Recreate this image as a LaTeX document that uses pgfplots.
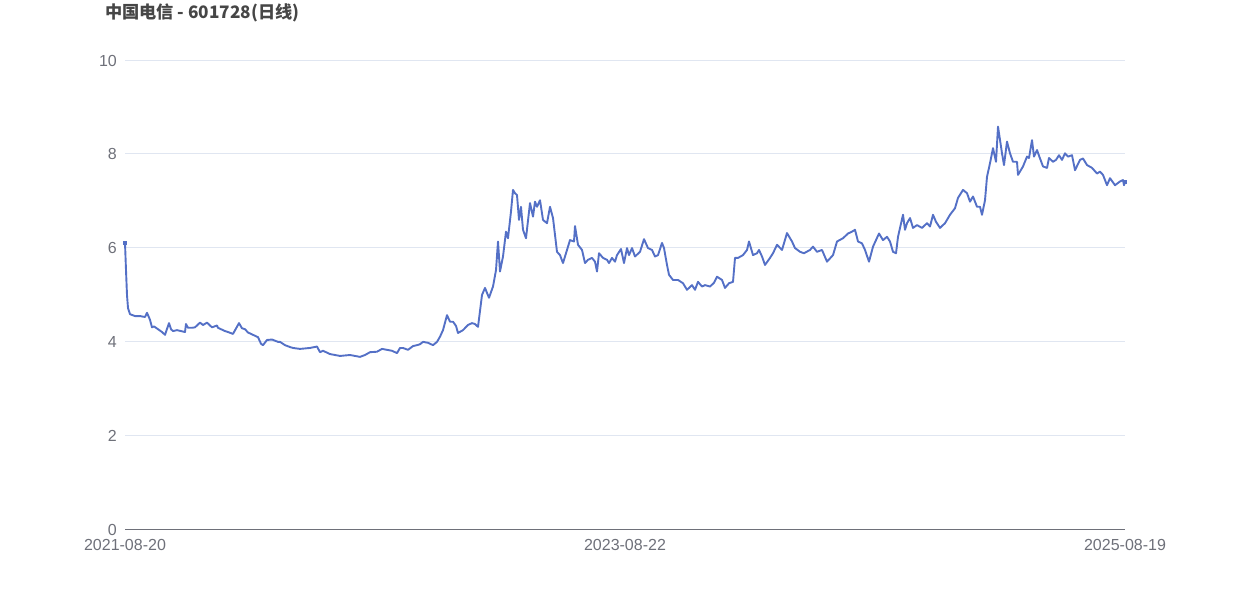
\documentclass[border=0pt]{standalone}
\usepackage{pgfplots}
\pgfplotsset{compat=1.18}
\usepackage{fontspec}
\setmainfont{Liberation Sans}
\newfontfamily\cjk{Noto Sans CJK SC}
\definecolor{lineblue}{HTML}{5470C6}
\definecolor{gridc}{HTML}{E0E6F1}
\definecolor{tickc}{HTML}{6E7079}
\definecolor{titlec}{HTML}{464646}
\begin{document}
\begin{tikzpicture}[x=1pt,y=1pt]
\path[use as bounding box] (0,0) rectangle (1250,600);
\node[anchor=west, inner sep=0pt, text=titlec, font=\cjk\bfseries\fontsize{17.2}{17.2}\selectfont] at (105,587) {中国电信 - 601728(日线)};
\begin{axis}[
  at={(125pt,71pt)}, anchor=south west,
  scale only axis, width=1000pt, height=469pt,
  xmin=0, xmax=1000, ymin=0, ymax=10,
  xtick={0,500,1000},
  xticklabels={2021-08-20,2023-08-22,2025-08-19},
  ytick={0,2,4,6,8,10},
  ymajorgrids, grid style={gridc, line width=0.8pt},
  axis x line*=bottom, axis y line*=left,
  x axis line style={tickc, line width=0.9pt, -},
  y axis line style={draw=none},
  major tick length=0pt,
  tick label style={font=\fontsize{16}{16}\selectfont, text=tickc, inner sep=0pt},
  /pgf/number format/assume math mode=true,
  yticklabel style={xshift=-8pt, yshift=-0.5pt},
  xticklabel style={yshift=-10pt},
  clip=false,
]
\addplot[lineblue, line width=1.9pt, line join=round] coordinates {
(0,6.10)(1,5.52)(2,4.99)(3,4.71)(5,4.58)(10,4.54)(15,4.54)(20,4.52)(22,4.61)(25,4.46)(27,4.30)(29,4.32)(33,4.26)(37,4.20)(40,4.14)(44,4.39)(46,4.26)(48,4.22)(52,4.24)(56,4.22)(60,4.20)(61,4.37)(63,4.29)(67,4.29)(70,4.30)(75,4.40)(78,4.35)(82,4.40)(87,4.30)(92,4.34)(93,4.29)(100,4.22)(103,4.20)(108,4.16)(114,4.39)(117,4.28)(120,4.26)(123,4.19)(128,4.14)(133,4.09)(136,3.95)(138,3.92)(142,4.03)(147,4.04)(153,3.99)(155,3.99)(160,3.92)(165,3.88)(168,3.86)(175,3.84)(185,3.86)(192,3.89)(195,3.77)(198,3.80)(205,3.73)(215,3.69)(225,3.71)(235,3.67)(240,3.71)(245,3.77)(252,3.78)(257,3.84)(262,3.82)(267,3.80)(272,3.75)(275,3.86)(278,3.86)(283,3.82)(288,3.90)(292,3.92)(295,3.94)(298,3.99)(303,3.97)(308,3.92)(312,3.99)(315,4.10)(318,4.24)(322,4.56)(325,4.42)(328,4.42)(331,4.33)(333,4.18)(338,4.24)(343,4.35)(347,4.39)(350,4.37)(353,4.31)(357,4.99)(360,5.14)(364,4.93)(368,5.17)(371,5.52)(373,6.13)(375,5.49)(378,5.81)(381,6.34)(383,6.20)(386,6.77)(388,7.23)(390,7.16)(392,7.12)(394,6.59)(396,6.87)(398,6.38)(401,6.20)(405,6.95)(408,6.66)(410,6.98)(412,6.87)(415,7.01)(418,6.59)(422,6.52)(425,6.87)(428,6.63)(432,5.91)(435,5.84)(438,5.67)(442,5.95)(445,6.16)(449,6.13)(450,6.46)(453,6.06)(457,5.95)(460,5.67)(463,5.74)(467,5.78)(470,5.70)(472,5.49)(474,5.88)(478,5.78)(482,5.74)(484,5.67)(487,5.78)(490,5.70)(492,5.84)(496,5.97)(499,5.67)(502,5.99)(504,5.84)(507,5.99)(510,5.81)(515,5.91)(519,6.18)(523,5.99)(527,5.95)(530,5.81)(533,5.84)(537,6.10)(539,5.99)(542,5.63)(544,5.42)(548,5.31)(553,5.31)(558,5.24)(562,5.10)(567,5.20)(570,5.10)(573,5.27)(577,5.17)(580,5.20)(585,5.17)(589,5.25)(592,5.38)(597,5.31)(600,5.14)(604,5.24)(608,5.27)(610,5.78)(613,5.78)(618,5.84)(622,5.95)(624,6.13)(628,5.84)(632,5.88)(634,5.95)(637,5.81)(640,5.63)(645,5.78)(648,5.88)(652,6.06)(657,5.95)(662,6.31)(667,6.13)(670,5.99)(675,5.91)(679,5.88)(685,5.95)(688,6.02)(692,5.91)(697,5.95)(702,5.70)(708,5.84)(712,6.13)(718,6.20)(723,6.30)(727,6.34)(730,6.38)(733,6.13)(737,6.09)(740,5.95)(744,5.70)(748,6.02)(754,6.30)(758,6.16)(762,6.23)(765,6.13)(768,5.91)(771,5.88)(773,6.23)(778,6.70)(780,6.38)(782,6.52)(785,6.63)(788,6.42)(792,6.48)(797,6.42)(802,6.52)(805,6.45)(808,6.70)(811,6.55)(815,6.42)(820,6.52)(825,6.70)(830,6.84)(833,7.06)(838,7.23)(842,7.16)(845,6.98)(848,7.09)(852,6.87)(855,6.87)(857,6.70)(860,7.01)(862,7.51)(865,7.80)(868,8.12)(871,7.83)(873,8.58)(877,8.01)(879,7.76)(882,8.26)(885,8.01)(888,7.83)(892,7.83)(893,7.55)(898,7.73)(902,7.94)(904,7.91)(907,8.29)(909,7.94)(912,8.08)(915,7.90)(918,7.73)(922,7.70)(924,7.91)(928,7.83)(931,7.87)(934,7.97)(937,7.87)(940,8.01)(943,7.94)(947,7.97)(950,7.65)(955,7.87)(958,7.90)(962,7.76)(967,7.70)(972,7.58)(975,7.62)(978,7.55)(982,7.33)(985,7.48)(990,7.33)(995,7.41)(998,7.44)(999,7.33)(1000,7.41)
};
\addplot[only marks, mark=square*, mark size=1.6pt, lineblue] coordinates {(0,6.10)(1000,7.41)};
\end{axis}
\end{tikzpicture}
\end{document}
